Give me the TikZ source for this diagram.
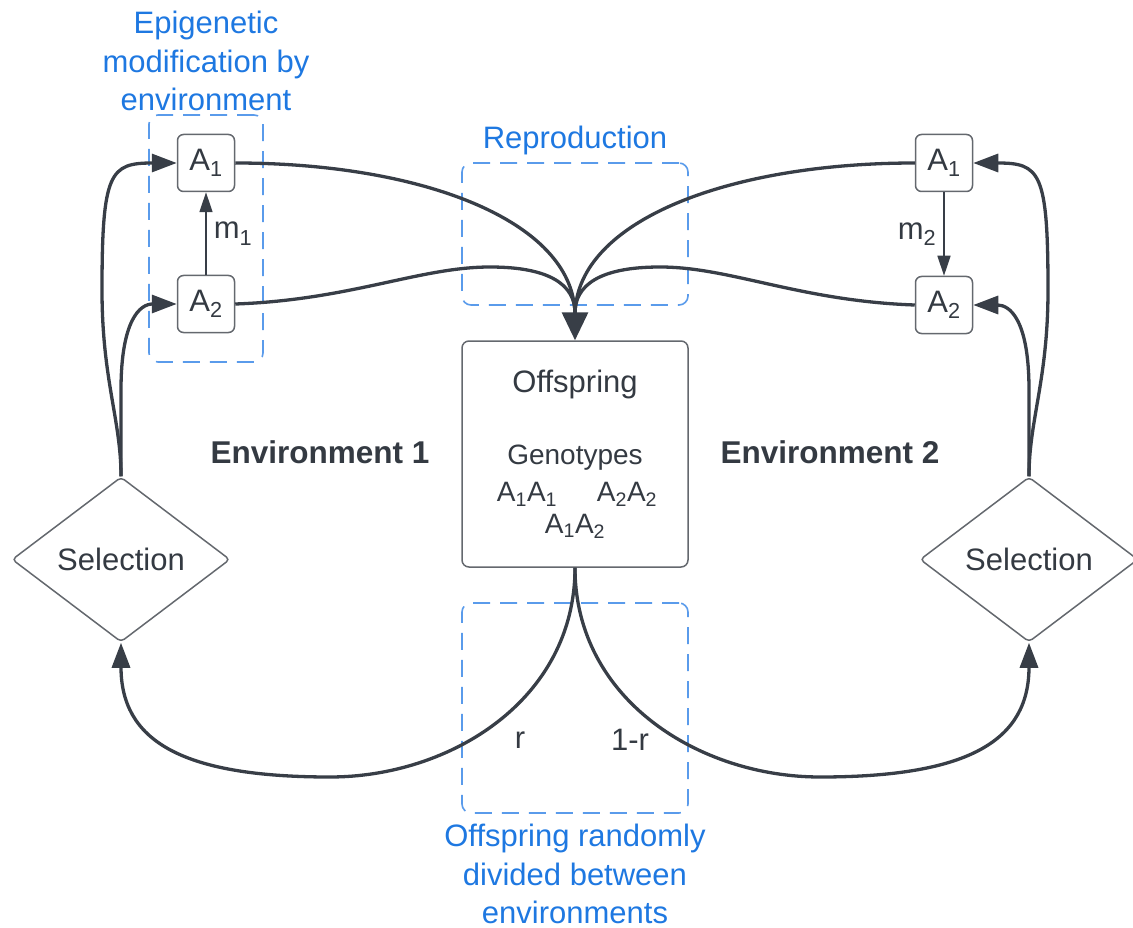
\documentclass[tikz,border=0pt]{standalone}
\usepackage{fontspec}
\setmainfont{Liberation Sans}
\usetikzlibrary{arrows.meta,shapes.geometric}
\definecolor{ln}{RGB}{56,62,71}
\definecolor{bd}{RGB}{100,104,110}
\definecolor{txt}{RGB}{52,58,66}
\definecolor{bl}{RGB}{30,120,225}
\definecolor{dbl}{RGB}{90,155,235}
\begin{document}
\begin{tikzpicture}[x=1pt,y=-1pt,
  lbl/.style={font=\fontsize{31}{38}\selectfont, text=txt, inner sep=0},
  slbl/.style={font=\fontsize{28}{32}\selectfont, text=txt, inner sep=0},
  blbl/.style={font=\fontsize{31}{38.5}\selectfont, text=bl, inner sep=0, align=center},
  abox/.style={draw=bd, fill=white, line width=1.5pt, rounded corners=6pt, minimum width=57pt, minimum height=57pt, inner sep=0, font=\fontsize{31}{38}\selectfont, text=txt},
  obox/.style={draw=bd, fill=white, line width=1.5pt, rounded corners=7pt, minimum width=226pt, minimum height=226pt, inner sep=0},
  dbox/.style={draw=dbl, line width=1.6pt, dash pattern=on 17pt off 10pt, rounded corners=9pt, inner sep=0},
  conn/.style={draw=ln, line width=3.3pt},
  tip/.style={-{Triangle[length=25pt,width=18pt]}},
  mline/.style={draw=ln, line width=1.5pt, -{Triangle[length=20pt,width=13pt]}},
  sel/.style={diamond, aspect=1.32, draw=bd, fill=white, line width=1.5pt, rounded corners=4pt, minimum width=218pt, minimum height=165pt, inner sep=2pt, font=\fontsize{31}{38}\selectfont, text=txt},
  env/.style={font=\fontsize{31.5}{38}\selectfont\bfseries, text=txt, inner sep=0}
]
\useasboundingbox (0,0) rectangle (1133,928);

% dashed groups
\node[dbox, minimum width=114pt, minimum height=247pt] (epi) at (206,238.5) {};
\node[dbox, minimum width=226pt, minimum height=142pt] (rep) at (575,234) {};
\node[dbox, minimum width=226pt, minimum height=210pt] (div) at (575,708) {};

% blue labels
\node[blbl] (epit) at (206,61) {Epigenetic\\modification by\\environment};
\node[blbl] (rept) at (575,140) {Reproduction};
\node[blbl] (divt) at (575,874) {Offspring randomly\\divided between\\environments};

% boxes
\node[abox] (A1L) at (206,163) {A\textsubscript{1}};
\node[abox] (A2L) at (206,304) {A\textsubscript{2}};
\node[abox] (A1R) at (944,163) {A\textsubscript{1}};
\node[abox] (A2R) at (944,305) {A\textsubscript{2}};
\node[obox] (off) at (575,454) {};
\node[lbl] (offt) at (575,384) {Offspring};
\node[slbl] (gen) at (575,458) {Genotypes};
\node[slbl] (g11) at (527,494) {A\textsubscript{1}A\textsubscript{1}};
\node[slbl] (g22) at (627,494) {A\textsubscript{2}A\textsubscript{2}};
\node[slbl] (g12) at (575,526) {A\textsubscript{1}A\textsubscript{2}};

\node[sel] (DL) at (121,559.5) {Selection};
\node[sel] (DR) at (1029,559.5) {Selection};

\node[env] (env1) at (320,452) {Environment 1};
\node[env] (env2) at (830,452) {Environment 2};

\node[lbl] (r) at (520,740) {r};
\node[lbl] (r1) at (630,740) {1-r};

% epigenetic arrows
\draw[mline] (A2L.north) -- node[lbl, right=7pt] {m\textsubscript{1}} (A1L.south);
\draw[mline] (A1R.south) -- node[lbl, left=7pt] {m\textsubscript{2}} (A2R.north);

% selection to A boxes
\coordinate (merge) at (575,313);
\draw[conn, tip] (DL.north) .. controls (121,420) and (102,380) .. (102,290)
  .. controls (102,172) and (110,163) .. (A1L.west);
\draw[conn, tip] (DL.north) -- (121,390) .. controls (121,320) and (140,304) .. (A2L.west);
\draw[conn, tip] (DR.north) .. controls (1029,420) and (1048,380) .. (1048,290)
  .. controls (1048,172) and (1040,163) .. (A1R.east);
\draw[conn, tip] (DR.north) -- (1029,390) .. controls (1029,320) and (1010,305) .. (A2R.east);

% reproduction
\draw[conn] (A1L.east) .. controls (420,163) and (572,220) .. (merge);
\draw[conn] (A2L.east) .. controls (350,300) and (420,267) .. (490,267)
  .. controls (550,267) and (575,285) .. (merge);
\draw[conn] (A1R.west) .. controls (730,163) and (578,220) .. (merge);
\draw[conn] (A2R.west) .. controls (800,301) and (730,267) .. (660,267)
  .. controls (600,267) and (575,285) .. (merge);
\draw[conn, -{Triangle[length=28pt,width=26pt]}] (merge) -- (off.north);

% division
\draw[conn, tip] (off.south) .. controls (575,700) and (450,777) .. (330,777)
  .. controls (180,777) and (121,740) .. (DL.south);
\draw[conn, tip] (off.south) .. controls (575,700) and (700,777) .. (820,777)
  .. controls (970,777) and (1029,740) .. (DR.south);
\end{tikzpicture}
\end{document}
